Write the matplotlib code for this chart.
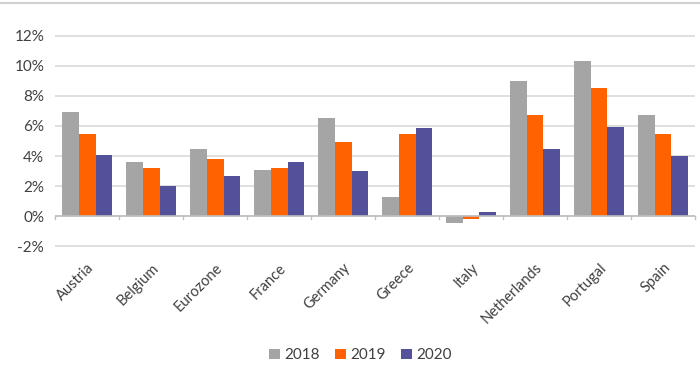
import numpy as np
import matplotlib.pyplot as plt
from matplotlib.ticker import FuncFormatter

countries = ['Austria', 'Belgium', 'Eurozone', 'France', 'Germany',
             'Greece', 'Italy', 'Netherlands', 'Portugal', 'Spain']
years = ['2018', '2019', '2020']
vals_2018 = [6.9, 3.6, 4.45, 3.1, 6.55, 1.3, -0.45, 9.0, 10.3, 6.7]
vals_2019 = [5.45, 3.2, 3.8, 3.2, 4.95, 5.45, -0.2, 6.75, 8.5, 5.45]
vals_2020 = [4.1, 2.0, 2.7, 3.6, 3.0, 5.85, 0.3, 4.5, 5.95, 4.0]
colors = ['#A5A5A5', '#FF6200', '#525199']

plt.rcParams['font.family'] = ['Lato', 'DejaVu Sans']
text_col = '#404040'

fig = plt.figure(figsize=(7, 3.74), dpi=100)
ax = fig.add_axes([0.079, 0.34, 0.914, 0.566])

x = np.arange(len(countries))
w = 0.26
for i, (vals, c, lab) in enumerate(zip([vals_2018, vals_2019, vals_2020], colors, years)):
    ax.bar(x + (i - 1) * w, vals, width=w, color=c, label=lab, zorder=3)

ax.set_xlim(-0.5, len(countries) - 0.5)
ax.set_ylim(-2.05, 12.05)
ax.set_yticks(np.arange(-2, 13, 2))
ax.yaxis.set_major_formatter(FuncFormatter(lambda v, p: f'{v:.0f}%'))
ax.grid(axis='y', color='#D9D9D9', linewidth=1.2, zorder=0)
for s in ['top', 'right', 'left', 'bottom']:
    ax.spines[s].set_visible(False)
ax.axhline(0, color='#BFBFBF', linewidth=1.2, zorder=4)

# category ticks at the boundaries along the zero line
for b in np.arange(-0.5, len(countries), 1.0):
    ax.plot([b, b], [0, -0.2], color='#BFBFBF', linewidth=1, zorder=4, clip_on=False)

ax.tick_params(axis='y', length=0, labelsize=11, labelcolor=text_col, pad=8)
ax.set_xticks(x)
ax.set_xticklabels(countries, rotation=45, ha='right', rotation_mode='anchor')
ax.tick_params(axis='x', length=0, labelsize=10.5, labelcolor=text_col, pad=10)

leg = fig.legend(loc='center', bbox_to_anchor=(0.515, 0.05), ncol=3, frameon=False,
                 fontsize=11, handlelength=0.7, handleheight=0.7,
                 handletextpad=0.3, columnspacing=1.0, labelcolor=text_col)

fig.add_artist(plt.Line2D([0, 1], [0.992, 0.992], color='#D0D0D0', linewidth=1.5))

fig.savefig('out.png', dpi=100, facecolor='white')
